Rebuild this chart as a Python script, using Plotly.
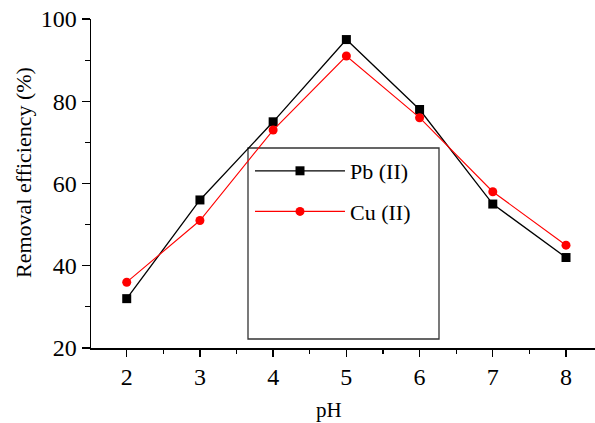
import plotly.graph_objects as go

ph = [2, 3, 4, 5, 6, 7, 8]
pb_removal = [32, 56, 75, 95, 78, 55, 42]
cu_removal = [36, 51, 73, 91, 76, 58, 45]
y_ticks = [20, 40, 60, 80, 100]
x_ticks = [2, 3, 4, 5, 6, 7, 8]

FONT = "Liberation Serif"

fig = go.Figure()
fig.add_trace(go.Scatter(
    x=ph, y=pb_removal, name="Pb (II)", mode="lines+markers",
    line=dict(color="black", width=1.3),
    marker=dict(symbol="square", size=9, color="black"),
    legendgroup="pb"))
fig.add_trace(go.Scatter(
    x=ph, y=cu_removal, name="Cu (II)", mode="lines+markers",
    line=dict(color="#ff0000", width=1.1),
    marker=dict(symbol="circle", size=9, color="#ff0000"),
    legendgroup="cu"))

W, H = 595, 423
PL, PT, PR, PB = 91, 19, 595, 348  # plot area in page pixels
pw, phh = PR - PL, PB - PT

def px_x(p):
    return (p - PL) / pw

def px_y(p):
    return (PB - p) / phh

fig.add_shape(type="rect", xref="paper", yref="paper",
              x0=px_x(248), x1=px_x(439), y0=px_y(339), y1=px_y(148),
              line=dict(color="#333333", width=1.3), fillcolor="white", layer="below")

fig.update_layout(
    width=W, height=H,
    margin=dict(l=PL, r=W - PR, t=PT, b=H - PB, autoexpand=False),
    paper_bgcolor="white", plot_bgcolor="white",
    font=dict(family=FONT, color="black"),
    showlegend=True,
    legend=dict(x=px_x(250), y=px_y(150), xanchor="left", yanchor="top",
                bgcolor="rgba(0,0,0,0)", borderwidth=0,
                font=dict(family=FONT, size=22, color="black"),
                traceorder="grouped", tracegroupgap=9, itemwidth=90),
    xaxis=dict(range=[1.512, 8.396], tickvals=x_ticks, automargin=False,
               showline=True, linecolor="black", linewidth=1.5,
               ticks="outside", ticklen=7, tickwidth=1.3, tickcolor="black",
               minor=dict(dtick=0.5, ticks="outside", ticklen=4, tickcolor="black", tickwidth=1.2),
               showgrid=False, zeroline=False, ticklabeloverflow="allow",
               tickfont=dict(family=FONT, size=24)),
    yaxis=dict(range=[20, 100], tickvals=y_ticks, automargin=False,
               showline=True, linecolor="black", linewidth=1.5,
               ticks="outside", ticklen=8, tickwidth=1.3, tickcolor="black",
               minor=dict(dtick=10, ticks="outside", ticklen=5, tickcolor="black", tickwidth=1.2),
               showgrid=False, zeroline=False, ticklabeloverflow="allow",
               tickfont=dict(family=FONT, size=24)),
    annotations=[
        dict(text="Removal efficiency (%)", xref="paper", yref="paper",
             x=px_x(23), y=px_y(173), xanchor="center", yanchor="middle",
             textangle=-90, showarrow=False,
             font=dict(family=FONT, size=22, color="black")),
        dict(text="pH", xref="paper", yref="paper",
             x=px_x(329), y=px_y(410), xanchor="center", yanchor="middle",
             showarrow=False, font=dict(family=FONT, size=21, color="black")),
    ],
)

fig.write_html("out.html",
               config={"displayModeBar": False, "staticPlot": True},
               post_script="document.body.style.margin='0';document.body.style.overflow='hidden';")
